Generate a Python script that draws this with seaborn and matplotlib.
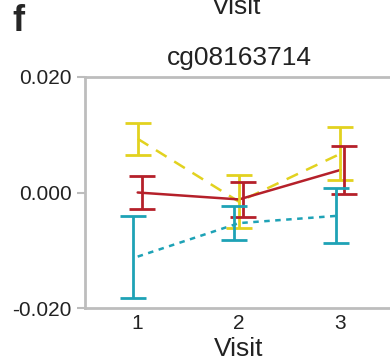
import numpy as np
import pandas as pd
import matplotlib
matplotlib.use('Agg')
import matplotlib.pyplot as plt
import seaborn as sns

visits = [1, 2, 3]
groups = ['A', 'B', 'C']
mean_a = [0.0093, -0.0016, 0.0067]
err_a = [0.0028, 0.0046, 0.0046]
mean_b = [0.0000, -0.0012, 0.0039]
err_b = [0.0029, 0.0030, 0.0042]
mean_c = [-0.0111, -0.0053, -0.0040]
err_c = [0.0071, 0.0029, 0.0047]
yticks = [-0.02, 0.0, 0.02]
probe = 'cg08163714'

cols = {'A': '#E2D21F', 'B': '#B5202A', 'C': '#1EA2B6'}
dash = {'A': (5, 3.6), 'B': '', 'C': (2.2, 2.2)}
shift = {'A': 0.0, 'B': 0.04, 'C': -0.045}
grey = '#BDBDBD'

df = pd.DataFrame({
    'Visit': visits * 3,
    'group': [g for g in groups for _ in visits],
    'mean': mean_a + mean_b + mean_c,
    'err': err_a + err_b + err_c,
})

sns.set_style('white')
plt.rcParams['font.family'] = ['Liberation Sans', 'DejaVu Sans']
plt.rcParams['axes.unicode_minus'] = False

fig = plt.figure(figsize=(3.9, 3.61), dpi=100)
ax = fig.add_axes([85 / 390, 53 / 361, 308 / 390, 231 / 361])

# lines through the group means, error bars slightly dodged
sns.lineplot(data=df, x='Visit', y='mean', hue='group', style='group',
             palette=cols, dashes=dash, lw=1.8, legend=False, ax=ax)
for g in groups:
    d = df[df['group'] == g]
    ax.errorbar(d['Visit'] + shift[g], d['mean'], yerr=d['err'], fmt='none',
                ecolor=cols[g], elinewidth=2.0, capsize=9.4, capthick=2.0)

ax.set_xlim(0.48, 3.52)
ax.set_ylim(-0.02, 0.02)
ax.set_xticks(visits)
ax.set_yticks(yticks)
ax.set_yticklabels(['%.3f' % v for v in yticks])
ax.tick_params(axis='x', length=0, pad=4, labelsize=15, colors='#222222')
ax.tick_params(axis='y', length=5.8, width=1.5, pad=3.6, labelsize=15,
               color=grey, labelcolor='#222222', left=True)
for s in ax.spines.values():
    s.set_color(grey)
    s.set_linewidth(2.0)
ax.set_xlabel('Visit', fontsize=19, labelpad=3, color='#222222')
ax.set_ylabel('')
ax.set_title(probe, fontsize=19, pad=8.8, color='#222222')

fig.text(12 / 390, (361 - 31) / 361, 'f', fontsize=26, fontweight='bold',
         ha='left', va='baseline')
# remnant of the panel label above, clipped by the top edge as in the source
fig.text(237 / 390, (361 - 14) / 361, 'Visit', fontsize=19, ha='center',
         va='baseline', color='#222222')

fig.savefig('out.png', dpi=100)
